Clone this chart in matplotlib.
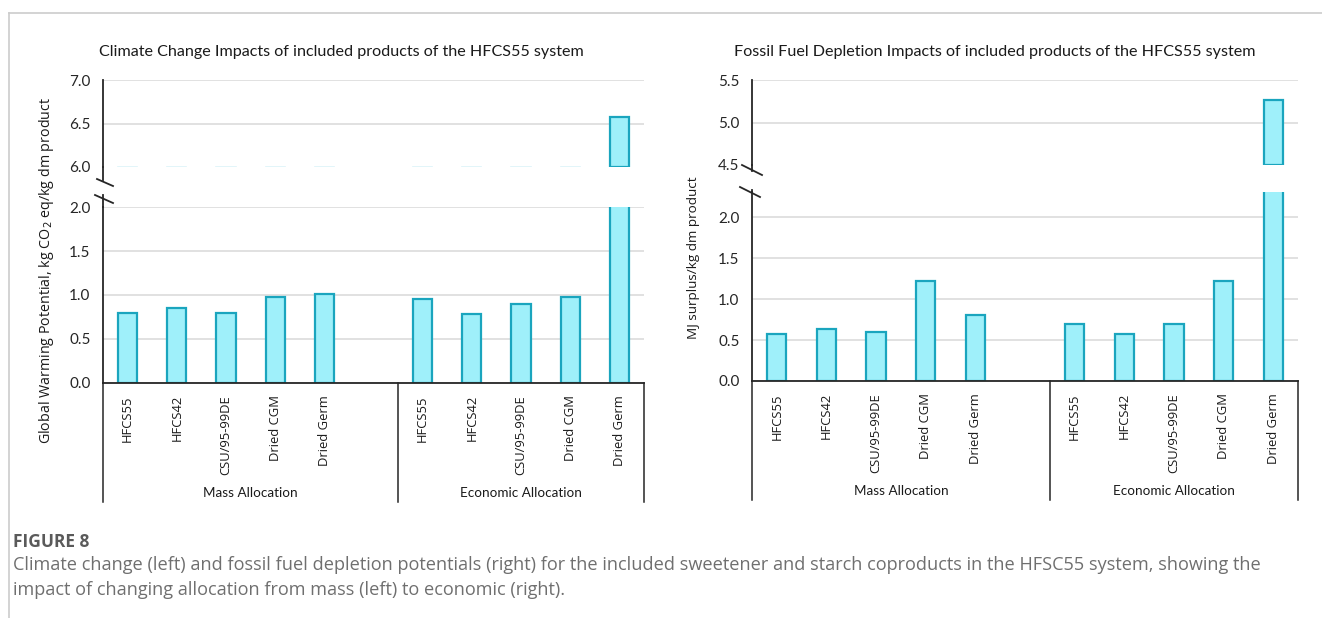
import numpy as np
import matplotlib
matplotlib.use("Agg")
import matplotlib.pyplot as plt
from matplotlib.lines import Line2D

# ---------------- data ----------------
categories = ["HFCS55", "HFCS42", "CSU/95-99DE", "Dried CGM", "Dried Germ"]
groups = ["Mass Allocation", "Economic Allocation"]
gwp_mass = [0.80, 0.85, 0.80, 0.98, 1.01]
gwp_econ = [0.95, 0.78, 0.90, 0.98, 6.58]
ffd_mass = [0.58, 0.64, 0.60, 1.22, 0.81]
ffd_econ = [0.70, 0.58, 0.70, 1.22, 5.27]

gwp_lower_ticks = [0.0, 0.5, 1.0, 1.5, 2.0]
gwp_upper_ticks = [6.0, 6.5, 7.0]
ffd_lower_ticks = [0.0, 0.5, 1.0, 1.5, 2.0]
ffd_upper_ticks = [4.5, 5.0, 5.5]

title_left = "Climate Change Impacts of included products of the HFCS55 system"
title_right = "Fossil Fuel Depletion Impacts of included products of the HFCS55 system"
ylabel_left = "Global Warming Potential, kg CO$_2$ eq/kg dm product"
ylabel_right = "MJ surplus/kg dm product"
fig_label = "FIGURE 8"
caption1 = ("Climate change (left) and fossil fuel depletion potentials (right) for the included sweetener "
            "and starch coproducts in the HFSC55 system, showing the")
caption2 = "impact of changing allocation from mass (left) to economic (right)."

# ---------------- style ----------------
W, H = 1322, 618
FILL = "#9FF0FA"
EDGE = "#1AA5BE"
GRID = "#D9D9D9"
AXC = "#262626"
TICK_FONT = "Lato"
LAB_FONT = "Open Sans"

fig = plt.figure(figsize=(W / 100, H / 100), dpi=100)


def px_rect(x0, y0, x1, y1):
    return [x0 / W, 1 - y1 / H, (x1 - x0) / W, (y1 - y0) / H]


def fx(x):
    return x / W


def fy(y):
    return 1 - y / H


n_slots = len(categories) * 2 + 1
pos_mass = np.arange(len(categories))
pos_econ = np.arange(len(categories)) + len(categories) + 1
positions = np.concatenate([pos_mass, pos_econ])
BW = 0.39


def style_ax(ax, ticks, ylim, show_bottom_grid):
    ax.set_xlim(-0.5, n_slots - 0.5)
    ax.set_ylim(*ylim)
    ax.set_yticks(ticks)
    ax.set_yticklabels([f"{t:.1f}" for t in ticks], fontfamily=TICK_FONT, fontsize=11, color="#262626")
    ax.tick_params(axis="y", length=0, pad=9)
    ax.set_xticks([])
    for s in ["top", "right", "bottom"]:
        ax.spines[s].set_visible(False)
    ax.spines["left"].set_color(AXC)
    ax.spines["left"].set_linewidth(1.3)
    for t in ticks:
        if t == ticks[0] and not show_bottom_grid:
            continue
        ax.axhline(t, color=GRID, lw=1.1, zorder=0)
    ax.patch.set_alpha(0)


def draw_panel(x0, x1, y_top, y_up_bot, y_lo_top, y_base, mass, econ,
               up_ticks, lo_ticks, lo_max, title, ylabel, ylab_x, ylab_y, ylab_fs, stubs,
               brk_up, brk_lo, spine_up_ext, spine_lo_ext, title_x):
    vals = np.array(list(mass) + list(econ))
    ax_u = fig.add_axes(px_rect(x0, y_top, x1, y_up_bot))
    ax_l = fig.add_axes(px_rect(x0, y_lo_top, x1, y_base))
    style_ax(ax_u, up_ticks, (up_ticks[0], up_ticks[-1]), False)
    style_ax(ax_l, lo_ticks, (0, lo_max), True)
    ax_l.bar(positions, vals, width=BW, color=FILL, edgecolor=EDGE, lw=1.6, zorder=2)
    big = vals > up_ticks[0]
    ax_u.bar(positions[big], vals[big] - up_ticks[0], bottom=up_ticks[0], width=BW,
             color=FILL, edgecolor=EDGE, lw=1.6, zorder=2)
    if stubs:
        for p in positions[~big]:
            ax_u.plot([p - BW / 2, p + BW / 2], [up_ticks[0]] * 2, color="#DDF3F8", lw=1.2, zorder=1)
    # x axis baseline
    fig.add_artist(Line2D([fx(x0), fx(x1)], [fy(y_base), fy(y_base)], color=AXC, lw=1.3))
    # category table lines
    slot = (x1 - x0) / n_slots
    xsep = x0 + slot * (len(categories) + 1)
    for xv in [x0, xsep, x1]:
        fig.add_artist(Line2D([fx(xv), fx(xv)], [fy(y_base), fy(y_base + 119)], color=AXC, lw=1.1))
    # category labels
    for p, lab in zip(positions, categories * 2):
        xp = x0 + slot * (p + 0.5)
        fig.text(fx(xp), fy(y_base + 12), lab, rotation=90, ha="center", va="top",
                 fontfamily=LAB_FONT, fontsize=9.4, color="#1a1a1a")
    fig.text(fx((x0 + xsep) / 2), fy(y_base + 110), groups[0], ha="center", va="center",
             fontfamily=TICK_FONT, fontsize=9.7, color="#1a1a1a")
    fig.text(fx((xsep + x1) / 2), fy(y_base + 110), groups[1], ha="center", va="center",
             fontfamily=TICK_FONT, fontsize=9.7, color="#1a1a1a")
    # spine extensions and break marks
    fig.add_artist(Line2D([fx(x0), fx(x0)], [fy(y_up_bot), fy(y_up_bot + spine_up_ext)], color=AXC, lw=1.3))
    fig.add_artist(Line2D([fx(x0), fx(x0)], [fy(y_lo_top), fy(y_lo_top - spine_lo_ext)], color=AXC, lw=1.3))
    (a, b, c, d) = brk_up
    fig.add_artist(Line2D([fx(a), fx(c)], [fy(b), fy(d)], color=AXC, lw=1.3))
    (a, b, c, d) = brk_lo
    fig.add_artist(Line2D([fx(a), fx(c)], [fy(b), fy(d)], color=AXC, lw=1.3))
    # title & ylabel
    fig.text(fx(title_x), fy(52), title, ha="center", va="center", fontfamily=TICK_FONT,
             fontsize=11.6, color="#1a1a1a")
    fig.text(fx(ylab_x), fy(ylab_y), ylabel, rotation=90, ha="center", va="center",
             fontfamily=LAB_FONT, fontsize=ylab_fs, color="#1a1a1a")
    return ax_u, ax_l


draw_panel(103, 644, 80, 167, 207, 383, gwp_mass, gwp_econ,
           gwp_upper_ticks, gwp_lower_ticks, 2.0, title_left, ylabel_left, 47, 270, 10.3, True,
           (97, 179, 113, 186), (95, 195, 113, 203), 13, 12, 341)
draw_panel(752, 1298, 80, 165, 192, 381, ffd_mass, ffd_econ,
           ffd_upper_ticks, ffd_lower_ticks, 2.31, title_right, ylabel_right, 693, 258, 9.7, False,
           (742, 165, 762, 175), (740, 187, 760, 197), 6, 2, 995)

# page decoration
fig.add_artist(Line2D([fx(9), fx(W)], [fy(13), fy(13)], color="#CCCCCC", lw=1.2))
fig.add_artist(Line2D([fx(9), fx(9)], [fy(13), fy(H)], color="#CCCCCC", lw=1.2))
fig.text(fx(13), fy(542), fig_label, ha="left", va="center", fontfamily=LAB_FONT,
         fontsize=12.5, fontweight="bold", color="#5a5a5a")
fig.text(fx(13), fy(565), caption1, ha="left", va="center", fontfamily=LAB_FONT,
         fontsize=13.1, color="#6f6f6f")
fig.text(fx(13), fy(590), caption2, ha="left", va="center", fontfamily=LAB_FONT,
         fontsize=13.1, color="#6f6f6f")

fig.savefig("out.png", dpi=100, facecolor="white")
